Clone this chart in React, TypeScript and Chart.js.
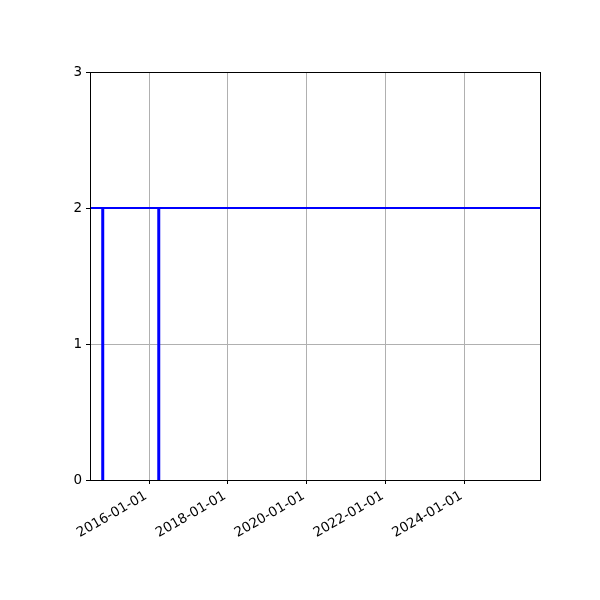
import { useEffect, useRef } from "react";
import Chart from "chart.js/auto";

// date range shown on the x axis
const X_START = "2014-07-03";
const X_END = "2025-12-01";

const tickDates = ["2016-01-01", "2018-01-01", "2020-01-01", "2022-01-01", "2024-01-01"];
const yTicks = [0, 1, 2, 3];

// level line and the two drops to zero
const levelValue = 2;
const dropDates = ["2014-10-29", "2016-03-31"];
const dropLow = 0;

const ms = (d: string) => new Date(d).getTime();

const framePlugin = {
  id: "frame",
  afterDraw(chart: Chart) {
    const { ctx, chartArea } = chart;
    ctx.save();
    ctx.strokeStyle = "#000";
    ctx.lineWidth = 1;
    ctx.strokeRect(
      Math.round(chartArea.left) + 0.5,
      Math.round(chartArea.top) + 0.5,
      Math.round(chartArea.right - chartArea.left),
      Math.round(chartArea.bottom - chartArea.top),
    );
    ctx.restore();
  },
};

export default function App() {
  const canvasRef = useRef<HTMLCanvasElement | null>(null);
  const chartRef = useRef<Chart | null>(null);

  useEffect(() => {
    document.body.style.margin = "0";
    if (!canvasRef.current) return;

    const font = { family: "DejaVu Sans", size: 13.5 };

    const datasets: any[] = [
      {
        data: [
          { x: ms(X_START), y: levelValue },
          { x: ms(X_END), y: levelValue },
        ],
        borderColor: "#0000ff",
        borderWidth: 2,
        pointRadius: 0,
      },
      ...dropDates.map((d) => ({
        data: [
          { x: ms(d), y: dropLow },
          { x: ms(d), y: levelValue },
        ],
        borderColor: "#0000ff",
        borderWidth: 3,
        pointRadius: 0,
      })),
    ];

    chartRef.current = new Chart(canvasRef.current, {
      type: "line",
      data: { datasets },
      plugins: [framePlugin],
      options: {
        animation: false,
        responsive: false,
        layout: { padding: { left: 0, top: 72, right: 60, bottom: 0 } },
        plugins: {
          legend: { display: false },
          tooltip: { enabled: false },
        },
        scales: {
          x: {
            type: "linear",
            min: ms(X_START),
            max: ms(X_END),
            afterBuildTicks: (scale: any) => {
              scale.ticks = tickDates.map((d) => ({ value: ms(d) }));
            },
            afterFit: (scale: any) => {
              scale.height = 120;
            },
            ticks: {
              color: "#000",
              font,
              minRotation: 30,
              maxRotation: 30,
              autoSkip: false,
              padding: 4,
              labelOffset: -3,
              callback: (v: any) => new Date(v).toISOString().slice(0, 10),
            },
            grid: {
              color: "#b0b0b0",
              lineWidth: 1,
              tickColor: "#000",
              tickLength: 4,
            },
            border: { display: false },
          },
          y: {
            min: 0,
            max: 3,
            afterBuildTicks: (scale: any) => {
              scale.ticks = yTicks.map((v) => ({ value: v }));
            },
            afterFit: (scale: any) => {
              scale.width = 90;
            },
            ticks: {
              color: "#000",
              font,
              padding: 4,
            },
            grid: {
              color: "#b0b0b0",
              lineWidth: 1,
              tickColor: "#000",
              tickLength: 4,
            },
            border: { display: false },
          },
        },
      },
    });

    return () => {
      if (chartRef.current) {
        chartRef.current.destroy();
        chartRef.current = null;
      }
    };
  }, []);

  return (
    <div style={{ width: 600, height: 600, background: "#fff" }}>
      <canvas ref={canvasRef} width={600} height={600} />
    </div>
  );
}
